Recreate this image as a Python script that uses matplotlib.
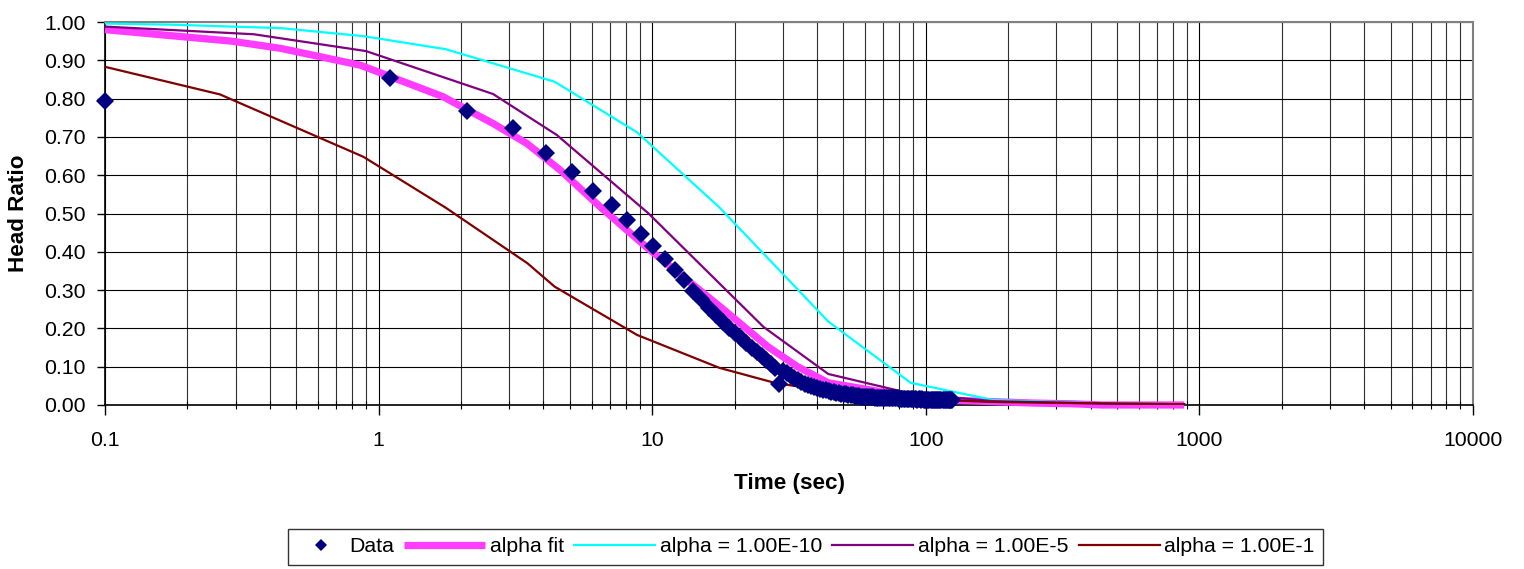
import matplotlib
matplotlib.use("Agg")
import matplotlib.pyplot as plt
from matplotlib.ticker import FixedLocator, FixedFormatter, LogLocator, NullFormatter
from matplotlib.legend_handler import HandlerLine2D

plt.rcParams['font.family'] = ['Liberation Sans', 'DejaVu Sans']

# ------------------------------
# Data
# ------------------------------
data_t = [0.1, 1.1, 2.1, 3.1, 4.1, 5.1, 6.1, 7.1, 8.1, 9.1,
          10.1, 11.1, 12.1, 13.1, 14.1, 15.1, 16.1, 17.1, 18.1, 19.1,
          20.1, 21.1, 22.1, 23.1, 24.1, 25.1, 26.1, 27.1, 28.1, 29.1,
          30.1, 31.1, 32.1, 33.1, 34.1, 35.1, 36.1, 37.1, 38.1, 39.1,
          40.1, 41.1, 42.1, 43.1, 44.1, 45.1, 46.1, 47.1, 48.1, 49.1,
          50.1, 51.1, 52.1, 53.1, 54.1, 55.1, 56.1, 57.1, 58.1, 59.1,
          60.1, 61.1, 62.1, 63.1, 64.1, 65.1, 66.1, 67.1, 68.1, 69.1,
          70.1, 71.1, 72.1, 73.1, 74.1, 75.1, 76.1, 77.1, 78.1, 79.1,
          80.1, 81.1, 82.1, 83.1, 84.1, 85.1, 86.1, 87.1, 88.1, 89.1,
          90.1, 91.1, 92.1, 93.1, 94.1, 95.1, 96.1, 97.1, 98.1, 99.1,
          100.1, 101.1, 102.1, 103.1, 104.1, 105.1, 106.1, 107.1, 108.1, 109.1,
          110.1, 111.1, 112.1, 113.1, 114.1, 115.1, 116.1, 117.1, 118.1, 119.1,
          120.1, 121.1, 122.1, 123.1, 124.1, 125.1]
data_y = [0.794, 0.854, 0.768, 0.722, 0.657, 0.608, 0.560, 0.521, 0.483, 0.447,
          0.414, 0.380, 0.352, 0.326, 0.298, 0.276, 0.252, 0.235, 0.218, 0.202,
          0.188, 0.174, 0.161, 0.149, 0.138, 0.127, 0.117, 0.106, 0.097, 0.055,
          0.089, 0.083, 0.076, 0.070, 0.065, 0.060, 0.056, 0.052, 0.049, 0.046,
          0.044, 0.042, 0.040, 0.038, 0.036, 0.035, 0.034, 0.032, 0.031, 0.030,
          0.029, 0.028, 0.027, 0.026, 0.025, 0.024, 0.023, 0.023, 0.022, 0.022,
          0.021, 0.021, 0.020, 0.020, 0.020, 0.019, 0.019, 0.019, 0.019, 0.018,
          0.018, 0.018, 0.018, 0.018, 0.017, 0.017, 0.017, 0.017, 0.017, 0.017,
          0.016, 0.016, 0.016, 0.016, 0.016, 0.016, 0.016, 0.015, 0.015, 0.015,
          0.015, 0.015, 0.015, 0.014, 0.015, 0.015, 0.014, 0.015, 0.014, 0.014,
          0.014, 0.014, 0.014, 0.014, 0.014, 0.013, 0.014, 0.014, 0.013, 0.013,
          0.014, 0.013, 0.013, 0.014, 0.013, 0.013, 0.013, 0.013, 0.013, 0.012,
          0.013, 0.013, 0.013, 0.012, 0.013, 0.013]

fit_t = [0.1, 0.29, 0.44, 0.86, 1.72, 2.62, 3.48, 4.6, 6.44, 9.5,
         17.7, 26.5, 34, 44, 75, 130, 250, 350, 440, 880]
fit_y = [0.980, 0.950, 0.931, 0.887, 0.805, 0.735, 0.683, 0.614, 0.518, 0.413,
         0.257, 0.152, 0.100, 0.058, 0.030, 0.012, 0.005, 0.003, 0.000, 0.000]

a10_t = [0.1, 0.176, 0.44, 0.88, 1.76, 4.4, 8.8, 17.6, 44, 88, 176, 440, 880]
a10_y = [0.996, 0.993, 0.984, 0.963, 0.929, 0.844, 0.712, 0.516, 0.218, 0.058, 0.013, 0.004, 0.002]

a5_t = [0.1, 0.35, 0.90, 2.62, 4.48, 9.7, 25.5, 44, 88, 176, 440, 880]
a5_y = [0.988, 0.968, 0.924, 0.812, 0.705, 0.500, 0.204, 0.081, 0.030, 0.010, 0.004, 0.002]

a1_t = [0.1, 0.263, 0.88, 1.76, 3.5, 4.4, 8.8, 17.6, 28, 44, 88, 176, 440, 880]
a1_y = [0.883, 0.811, 0.648, 0.515, 0.370, 0.309, 0.183, 0.097, 0.058, 0.036, 0.016, 0.008, 0.004, 0.002]

x_ticks = [0.1, 1, 10, 100, 1000, 10000]
x_labels = ['0.1', '1', '10', '100', '1000', '10000']
y_ticks = [0.0, 0.1, 0.2, 0.3, 0.4, 0.5, 0.6, 0.7, 0.8, 0.9, 1.0]
y_labels = ['%.2f' % v for v in y_ticks]


# legend handlers: Excel-style keys (marker at the left, long line samples)
class MarkerLeft(HandlerLine2D):
    def get_xdata(self, legend, xdescent, ydescent, width, height, fontsize):
        xdata, _ = super().get_xdata(legend, xdescent, ydescent, width, height, fontsize)
        return xdata, [-xdescent + 0.14 * width]


class LongLine(HandlerLine2D):
    def get_xdata(self, legend, xdescent, ydescent, width, height, fontsize):
        xdata, xm = super().get_xdata(legend, xdescent, ydescent, width, height, fontsize)
        return [xdata[0] - 1.55 * fontsize, xdata[-1]], xm


# ------------------------------
# Figure
# ------------------------------
fig = plt.figure(figsize=(15.24, 5.69), dpi=100)
ax = fig.add_axes([105 / 1524, 1 - 405 / 569, 1368 / 1524, 383 / 569])

l_fit, = ax.plot(fit_t, fit_y, color='#FF3CFF', lw=5.2, solid_capstyle='butt',
                 label='alpha fit', zorder=3, clip_on=False)
l_a10, = ax.plot(a10_t, a10_y, color='#00FFFF', lw=1.6, label='alpha = 1.00E-10', zorder=4)
l_a5, = ax.plot(a5_t, a5_y, color='#800080', lw=1.6, label='alpha = 1.00E-5', zorder=4)
l_a1, = ax.plot(a1_t, a1_y, color='#800000', lw=1.6, label='alpha = 1.00E-1', zorder=4)
l_data, = ax.plot(data_t, data_y, 'D', color='#000080', ms=9, mew=0, label='Data',
                  zorder=5, clip_on=False)

ax.set_xscale('log')
ax.set_xlim(0.1, 10000)
ax.set_ylim(0, 1)

ax.xaxis.set_major_locator(FixedLocator(x_ticks))
ax.xaxis.set_major_formatter(FixedFormatter(x_labels))
ax.xaxis.set_minor_locator(LogLocator(base=10, subs=(2, 3, 4, 5, 6, 7, 8, 9)))
ax.xaxis.set_minor_formatter(NullFormatter())
ax.yaxis.set_major_locator(FixedLocator(y_ticks))
ax.yaxis.set_major_formatter(FixedFormatter(y_labels))

ax.grid(True, which='major', color='black', lw=0.8)
ax.grid(True, which='minor', axis='x', color='#303030', lw=0.8)
ax.set_axisbelow(True)

ax.tick_params(axis='y', which='major', direction='out', length=6, width=1, pad=8, labelsize=15.3)
ax.tick_params(axis='x', which='major', direction='out', length=7, width=1, pad=12, labelsize=15.3)
ax.tick_params(axis='x', which='minor', direction='inout', length=6, width=0.8)

for side in ['left', 'bottom']:
    ax.spines[side].set_color('black')
    ax.spines[side].set_linewidth(1.2)
for side in ['top', 'right']:
    ax.spines[side].set_color('#808080')
    ax.spines[side].set_linewidth(1.5)

ax.set_ylabel('Head Ratio', fontsize=16.2, fontweight='bold')
ax.yaxis.set_label_coords(-0.0556, 0.5)
ax.set_xlabel('Time (sec)', fontsize=16.2, fontweight='bold')
ax.xaxis.set_label_coords(0.5, -0.178)

leg = fig.legend([l_data, l_fit, l_a10, l_a5, l_a1],
                 ['Data', 'alpha fit', 'alpha = 1.00E-10', 'alpha = 1.00E-5', 'alpha = 1.00E-1'],
                 handler_map={l_data: MarkerLeft(), l_fit: LongLine(), l_a10: LongLine(),
                              l_a5: LongLine(), l_a1: LongLine()},
                 loc='center', bbox_to_anchor=(805.5 / 1524, 1 - 547 / 569),
                 ncol=5, fontsize=15.3, frameon=True, fancybox=False,
                 edgecolor='black', handlelength=2.26, handletextpad=0.2,
                 columnspacing=2.05, borderpad=0.4, markerscale=0.65)
leg.get_frame().set_linewidth(1.0)

fig.savefig('out.png', dpi=100)
